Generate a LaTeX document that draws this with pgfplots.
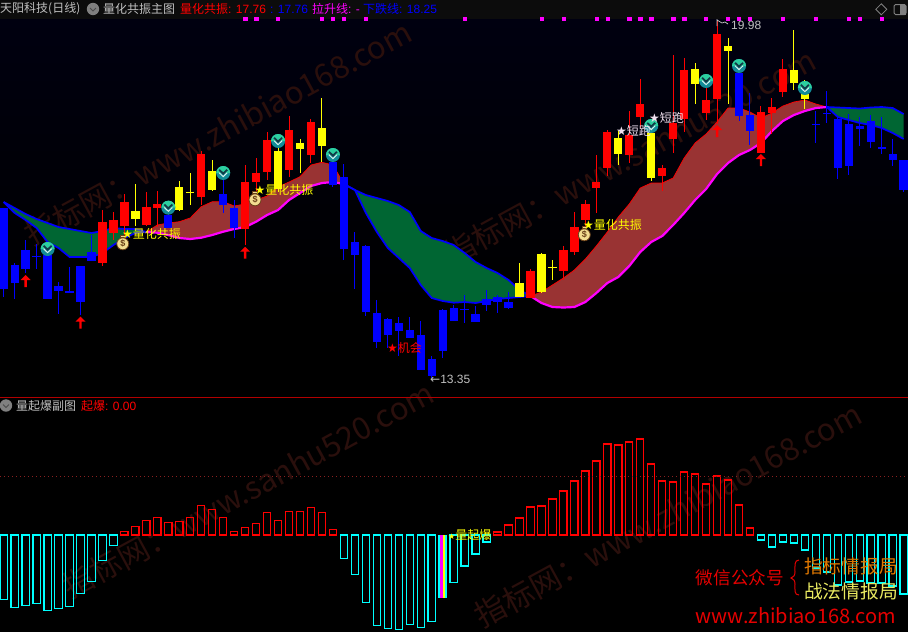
\documentclass[border=0pt]{standalone}
\usepackage{fontspec}
\usepackage{pgfplots}
\usepackage{pgfplotstable}
\pgfplotsset{compat=1.18}
\setmainfont{Liberation Sans}
\newfontfamily\cjk{Noto Sans CJK SC}
\newfontfamily\sym{DejaVu Sans}
\definecolor{wm}{HTML}{2A0F0C}
\definecolor{brown1}{HTML}{993333}
\definecolor{green1}{HTML}{006633}
\definecolor{gr}{HTML}{C0C0C0}
\definecolor{icB}{HTML}{128C98}
\definecolor{icT}{HTML}{2CCFA0}
\definecolor{icD}{HTML}{123A48}
\definecolor{icL}{HTML}{D8F0EC}
\definecolor{bagF}{HTML}{F2DC90}
\definecolor{bagD}{HTML}{6A4018}
\definecolor{dotc}{HTML}{8A2020}
\definecolor{cyn}{HTML}{00FFFF}
\definecolor{mgt}{HTML}{FF00FF}
\definecolor{ylw}{HTML}{FFFF00}
\definecolor{lav}{HTML}{F0E0F0}
\definecolor{org}{HTML}{E07800}
\definecolor{pale}{HTML}{E8E860}
\pgfplotstableread{
x top bot hi lo
9 222 263 210 266
10 220 233 212 240
11 202 226 194 237
13 207 225 192 226
14 204 208 191 227
18 154 197 151 205
22 182 229 165 245
23 173 182 158 192
24 140 172 132 180
26 130 170 116 177
28 122 155 119 163
48 271 298 269 298
51 250 271 246 280
52 227 252 212 255
53 204 220 200 230
54 182 188 155 213
55 132 168 130 176
57 135 155 111 163
58 104 117 79 128
60 168 176 165 191
61 123 139 55 153
62 70 119 58 132
64 100 113 83 120
65 34 99 20 124
69 112 153 106 153
70 107 113 98 134
71 69 92 59 97
}\redc
\pgfplotstableread{
x top bot hi lo
12 211 219 184 226
16 187 210 181 211
17 191.7 192.7 173 205
19 171 190 160 191
25 151 189 140 192
27 143 149 139 173
29 128 146 98 162
47 283 297 263 297
49 254 292 253 293
50 266.7 267.7 260 280
56 138 154 131 165
59 133 178 119 181
63 69 84 63 104
66 46 51 38 104
72 70 83 30 90
73 94 99 80 109
}\yelc
\pgfplotstableread{
x top bot hi lo
0 208 289 208 297
1 265 283 263 299
2 250 269 240 273
3 255.5 256.5 244 269
4 255 299 250 299
5 286 291 282 314
6 291 293 267 293
7 266 302 266 315
8 252 261 235 261
15 215 228 208 228
20 194 205 180 213
21 208 228 200 238
30 162 185 155 187
31 177 249 164 260
32 242 255 232 289
33 246 312 245 316
34 313 342 300 348
35 319 335 318 348
36 323 331 317 356
37 330 338 317 338
38 335 370 321 370
39 359 376 356 378
40 310 351 309 358
41 308 321 305 321
42 308.8 309.8 295 323
43 314 322 306 322
44 299 305 290 311
45 297 302 295 313
46 302 308 292 309
67 73 116 68 121
68 115 131 93 145
74 123.5 124.5 111 143
75 112.5 113.5 91 123
76 119 168 117 179
77 124 166 114 175
78 126 129 117 146
79 121 142 115 148
80 147 149 117 154
81 154 160 139 166
82 160 190 160 192
}\bluc
\pgfplotstableread{
x up lo
0 202 202
1 208 213
2 214 220
3 219 228
4 223 242
5 227 248
6 229 257
7 231 257
8 233 257
9 231 253
10 228 245
11 229 238
12 229 233
13 232 232
}\bandA
\pgfplotstableread{
x up lo
13 232 232
14 225 232.7
15 223 235
16 221.7 238
17 218 239
18 206.7 237.7
19 201.7 235
20 201.7 231.7
21 206 229
22 204 227
23 200 221.7
24 196 215
25 187 210
26 182 200
27 176.7 193
28 165 186
29 162.3 183
30 165 182
31 184 184
}\bandB
\pgfplotstableread{
x up lo
31 184 184
32 190 190
33 195 213
34 198 232
35 201 248
36 205 258
37 212 268
38 231 285
39 238 298
40 241 301
41 245 302.7
42 253 302
43 262 303
44 268 301
45 273 299
46 280 298
47 290 297
48 296 296
}\bandC
\pgfplotstableread{
x up lo
48 296 296
49 292 303
50 285 307
51 278 307.5
52 270 307
53 259 302
54 246 293
55 232 283
56 217 277
57 204 266
58 188 252
59 183 242
60 183 236
61 178 225
62 158 213
63 143 200
64 134 189
65 122 174
66 108 163
67 108 155
68 112 150
69 118 143
70 113 131
71 106 121
72 102 115
73 100 111
74 104 108
75 107 107
}\bandD
\pgfplotstableread{
x up lo
75 107 107
76 107.5 117
77 108 120
78 108.5 123
79 107.5 125
80 107 128
81 108 133
82 114 139
}\bandE
\pgfplotstableread{
x v
0 -64.3
1 -72.3
2 -70.3
3 -68.3
4 -75.3
5 -73.3
6 -71.3
7 -58.3
8 -46.3
9 -25.3
10 -10.3
31 -23.3
32 -39.3
33 -67.3
34 -90.3
35 -93.3
36 -94.3
37 -89.3
38 -92.3
39 -86.3
41 -47.3
42 -31
43 -19
44 -7
69 -5
70 -12
71 -7
72 -8
73 -15
74 -33
75 -37
76 -50
77 -47
78 -46
79 -48
80 -48
81 -51
82 -59
}\negb
\pgfplotstableread{
x v
11 3.7
12 8.7
13 14.7
14 17.7
15 12.7
16 13.7
17 17.7
18 29.7
19 25.7
20 17.7
21 3.7
22 7.7
23 11.7
24 22.7
25 14.7
26 23.7
27 23.7
28 27.7
29 22.7
30 5.7
45 3
46 10
47 17
48 28
49 29
50 36
51 44
52 54
53 64
54 74
55 91
56 90
57 93
58 96
59 71
60 54
61 53
62 63
63 61
64 51
65 59
66 55
67 30
68 7
}\posb
\newcommand{\candles}[2]{%
\addplot[draw=none,forget plot,mark=none,error bars/.cd,y dir=plus,y explicit,error mark=none,
  error bar style={draw=#2,line width=1pt,solid}] table[x=x,y=hi,y error expr=\thisrow{lo}-\thisrow{hi}]{#1};
\addplot[draw=none,forget plot,mark=none,error bars/.cd,y dir=plus,y explicit,error mark=none,
  error bar style={draw=#2,line width=8.3pt,solid}] table[x=x,y=top,y error expr=\thisrow{bot}-\thisrow{top}]{#1};
}
% table, upper colour, upper width, lower colour, lower width
\newcommand{\bandlines}[5]{%
\addplot[draw=#2,line width=#3,forget plot] table[x=x,y=up]{#1};
\addplot[draw=#4,line width=#5,forget plot] table[x=x,y=lo]{#1};
}
\pgfdeclareplotmark{sell}{%
  \pgfsetfillcolor{icB}\pgfpathcircle{\pgfqpoint{0pt}{0pt}}{7pt}\pgfusepath{fill}%
  \pgfsetfillcolor{icT}\pgfpathmoveto{\pgfqpoint{-7pt}{0pt}}\pgfpatharc{180}{0}{7pt}\pgfpathclose\pgfusepath{fill}%
  \pgfsetstrokecolor{icD}\pgfsetlinewidth{1.8pt}%
  \pgfpathmoveto{\pgfqpoint{-4pt}{3.2pt}}\pgfpathlineto{\pgfqpoint{0pt}{-0.6pt}}\pgfpathlineto{\pgfqpoint{4pt}{3.2pt}}\pgfusepath{stroke}%
  \pgfsetstrokecolor{icL}\pgfsetlinewidth{1pt}%
  \pgfpathmoveto{\pgfqpoint{-4pt}{0.2pt}}\pgfpathlineto{\pgfqpoint{0pt}{-3.6pt}}\pgfpathlineto{\pgfqpoint{4pt}{0.2pt}}\pgfusepath{stroke}%
}
\pgfdeclareplotmark{uparrow}{%
  \pgfsetfillcolor{red}%
  \pgfpathmoveto{\pgfqpoint{0pt}{0pt}}\pgfpathlineto{\pgfqpoint{5pt}{-5pt}}\pgfpathlineto{\pgfqpoint{1.2pt}{-5pt}}%
  \pgfpathlineto{\pgfqpoint{1.2pt}{-12pt}}\pgfpathlineto{\pgfqpoint{-1.2pt}{-12pt}}\pgfpathlineto{\pgfqpoint{-1.2pt}{-5pt}}%
  \pgfpathlineto{\pgfqpoint{-5pt}{-5pt}}\pgfpathclose\pgfusepath{fill}%
}
\pgfdeclareplotmark{bag}{%
  \pgfsetfillcolor{bagF}\pgfsetstrokecolor{bagD}\pgfsetlinewidth{.8pt}%
  \pgfpathcircle{\pgfqpoint{0pt}{-1.5pt}}{6pt}\pgfusepath{fill,stroke}%
  \pgfpathrectanglecorners{\pgfqpoint{-2.2pt}{4.5pt}}{\pgfqpoint{2.2pt}{7pt}}\pgfusepath{fill,stroke}%
  \pgftext[x=0pt,y=-1.5pt]{\color{bagD}\bfseries\fontsize{9}{9}\selectfont\$}%
}
\begin{document}
\begin{tikzpicture}[x=1pt,y=-1pt]
\fill[black] (0,0) rectangle (908,632);
\shade[top color={rgb,255:red,0;green,0;blue,16},bottom color=black] (0,19) rectangle (908,300);
\fill[color={rgb,255:red,12;green,12;blue,12}] (0,0) rectangle (908,19);
% watermarks
\begin{scope}[every node/.style={text=wm,inner sep=0,anchor=center}]
\node[rotate=28.5] at (218,133) {\cjk\fontsize{31}{31}\selectfont 指标网：www.zhibiao168.com};
\node[rotate=28.5] at (630,157) {\cjk\fontsize{31}{31}\selectfont 指标网：www.sanhu520.com};
\node[rotate=28.5] at (248,490) {\cjk\fontsize{31}{31}\selectfont 指标网：www.sanhu520.com};
\node[rotate=28.5] at (668,515) {\cjk\fontsize{31}{31}\selectfont 指标网：www.zhibiao168.com};
\end{scope}
\begin{axis}[at={(0pt,0pt)},anchor=north west,scale only axis,width=908pt,height=397pt,hide axis,
  xmin=-0.337,xmax=82.397,ymin=0,ymax=397,y dir=reverse]
\addplot[fill=green1,draw=none,forget plot] coordinates {(0,202)(1,208)(2,214)(3,219)(4,223)(5,227)(6,229)(7,231)(8,233)(9,231)(10,228)(11,229)(12,229)(13,232)(12,233)(11,238)(10,245)(9,253)(8,257)(7,257)(6,257)(5,248)(4,242)(3,228)(2,220)(1,213)};
\addplot[fill=brown1,draw=none,forget plot] coordinates {(13,232)(14,225)(15,223)(16,221.7)(17,218)(18,206.7)(19,201.7)(20,201.7)(21,206)(22,204)(23,200)(24,196)(25,187)(26,182)(27,176.7)(28,165)(29,162.3)(30,165)(31,184)(30,182)(29,183)(28,186)(27,193)(26,200)(25,210)(24,215)(23,221.7)(22,227)(21,229)(20,231.7)(19,235)(18,237.7)(17,239)(16,238)(15,235)(14,232.7)};
\addplot[fill=green1,draw=none,forget plot] coordinates {(31,184)(32,190)(33,195)(34,198)(35,201)(36,205)(37,212)(38,231)(39,238)(40,241)(41,245)(42,253)(43,262)(44,268)(45,273)(46,280)(47,290)(48,296)(47,297)(46,298)(45,299)(44,301)(43,303)(42,302)(41,302.7)(40,301)(39,298)(38,285)(37,268)(36,258)(35,248)(34,232)(33,213)(32,190)};
\addplot[fill=brown1,draw=none,forget plot] coordinates {(48,296)(49,292)(50,285)(51,278)(52,270)(53,259)(54,246)(55,232)(56,217)(57,204)(58,188)(59,183)(60,183)(61,178)(62,158)(63,143)(64,134)(65,122)(66,108)(67,108)(68,112)(69,118)(70,113)(71,106)(72,102)(73,100)(74,104)(75,107)(74,108)(73,111)(72,115)(71,121)(70,131)(69,143)(68,150)(67,155)(66,163)(65,174)(64,189)(63,200)(62,213)(61,225)(60,236)(59,242)(58,252)(57,266)(56,277)(55,283)(54,293)(53,302)(52,307)(51,307.5)(50,307)(49,303)};
\addplot[fill=green1,draw=none,forget plot] coordinates {(75,107)(76,107.5)(77,108)(78,108.5)(79,107.5)(80,107)(81,108)(82,114)(82,139)(81,133)(80,128)(79,125)(78,123)(77,120)(76,117)};
\bandlines{\bandA}{blue}{1.7pt}{blue}{1.7pt}
\bandlines{\bandC}{blue}{1.7pt}{blue}{1.7pt}
\bandlines{\bandE}{blue}{1.7pt}{blue}{1.7pt}
\bandlines{\bandB}{red}{.7pt}{mgt}{2.2pt}
\bandlines{\bandD}{red}{.7pt}{mgt}{2.2pt}
\candles{\redc}{red}
\candles{\yelc}{ylw}
\candles{\bluc}{blue}
% top dots
\addplot[only marks,mark=square*,mark size=1.6pt,color=mgt,forget plot] coordinates {
(22,18.5)(23,18.5)(25,18.5)(29,18.5)(30,18.5)(31,18.5)(33,18.5)(42,18.5)(49,18.5)(51,18.5)(54,18.5)(55,18.5)(57,18.5)(58,18.5)(59,18.5)(61,18.5)(62,18.5)(64,18.5)(66,18.5)(67,18.5)(68,18.5)(71,18.5)(74,18.5)(77,18.5)(78,18.5)(80,18.5)};
% arrows
\addplot[only marks,mark=uparrow,forget plot] coordinates {(2,275)(7,316.7)(22,246.7)(65,125)(69,154)};
% sell icons
\addplot[only marks,mark=sell,forget plot] coordinates {(4,249)(15,207.7)(20,173)(25,141)(30,155)(59,126)(64,81)(67,66)(73,88)};
% bags
\addplot[only marks,mark=bag,forget plot] coordinates {(10.85,242.3)(22.9,198.3)(52.9,233.3)};
\end{axis}
\begin{axis}[at={(0pt,-397pt)},anchor=north west,scale only axis,width=908pt,height=235pt,hide axis,
  xmin=-0.337,xmax=82.397,ymin=-97,ymax=138]
\addplot[ybar,bar width=7.3pt,bar shift=0pt,draw=cyn,line width=1.15pt,fill=none,forget plot] table[x=x,y=v]{\negb};
\addplot[ybar,bar width=7.3pt,bar shift=0pt,draw=red,line width=1.15pt,fill=none,forget plot] table[x=x,y=v]{\posb};
\addplot[ybar,bar width=2.3pt,bar shift=-3.2pt,fill=cyn,draw=none,forget plot] coordinates {(40,-63.3)};
\addplot[ybar,bar width=2.6pt,bar shift=-1pt,fill=mgt,draw=none,forget plot] coordinates {(40,-63.3)};
\addplot[ybar,bar width=2pt,bar shift=1.2pt,fill=ylw,draw=none,forget plot] coordinates {(40,-63.3)};
\addplot[ybar,bar width=2pt,bar shift=3.2pt,fill=cyn,draw=none,forget plot] coordinates {(40,-63.3)};
\addplot[dash pattern=on .8pt off 3.2pt,draw=dotc,line width=.8pt,forget plot] coordinates {(-0.337,58.7)(82.397,58.7)};
\end{axis}
% separator
\draw[color=red!70!black,line width=1pt] (0,397.3)--(908,397.3);
% text helpers
\newcommand{\T}[4]{\node[anchor=west,inner sep=0,text=#3,font=\fontsize{12}{12}\selectfont] at (#1,#2) {#4};}
\T{0}{9}{gr}{\cjk 天阳科技(日线)}
\T{103}{9}{gr}{\cjk 量化共振主图}
\T{180}{9}{red}{{\cjk 量化共振}: 17.76}
\T{270}{9}{blue}{: 17.76}
\T{312}{9}{mgt}{{\cjk 拉升线}: -}
\T{363}{9}{blue}{{\cjk 下跌线}: 18.25}
\fill[color=gray] (93,9) circle (6.2);
\draw[color=black!70,line width=1pt] (90,8)--(93,11)--(96,8);
\fill[color=gray] (6,405.5) circle (6.2);
\draw[color=black!70,line width=1pt] (3,404.5)--(6,407.5)--(9,404.5);
\T{16}{405.5}{gr}{\cjk 量起爆副图}
\T{81}{405.5}{red}{{\cjk 起爆}: 0.00}
% top-right icons
\draw[color=gray,line width=.8pt] (881.3,3.8)--(886.8,9.3)--(881.3,14.8)--(875.8,9.3)--cycle;
\draw[color=gray,line width=1pt,rounded corners=1.5] (894,4.5) rectangle (906,14.5);
\fill[color=gray] (900,4.5) rectangle (906,14.5);
% annotations
\T{122}{234}{ylw}{{\sym\fontsize{12}{12}\selectfont ★}{\cjk 量化共振}}
\T{254.5}{190}{ylw}{{\sym\fontsize{12}{12}\selectfont ★}{\cjk 量化共振}}
\T{583}{225}{ylw}{{\sym\fontsize{12}{12}\selectfont ★}{\cjk 量化共振}}
\T{616}{131}{lav}{{\sym\fontsize{12}{12}\selectfont ★}{\cjk 短跑}}
\T{649}{118}{lav}{{\sym\fontsize{12}{12}\selectfont ★}{\cjk 短跑}}
\T{387}{348}{red}{{\sym\fontsize{12}{12}\selectfont ★}{\cjk 机会}}
\T{430}{379}{gr}{{\sym ←}13.35}
\T{731}{25}{gr}{19.98}
\draw[color=gr,line width=.7pt] (717,19)--(717,26) (717,20)--(722,23)--(725,22)--(728,24);
\T{448}{535}{ylw}{{\sym\fontsize{8}{8}\selectfont ★}{\cjk 量起爆}}
% promo
\node[anchor=west,inner sep=0,text=red!90!black] at (695.7,578) {\cjk\fontsize{17.6}{17.6}\selectfont 微信公众号};
\node[anchor=west,inner sep=0,text=org] at (804,566.7) {\cjk\fontsize{18.7}{18.7}\selectfont 指标情报局};
\node[anchor=west,inner sep=0,text=pale] at (804,591.7) {\cjk\fontsize{18.7}{18.7}\selectfont 战法情报局};
\node[anchor=west,inner sep=0,text=red!90!black] at (695.7,616) {\cjk\fontsize{20}{20}\selectfont www.zhibiao168.com};
\draw[color=red!90!black,line width=1pt] (799,560) .. controls (794,560) and (795,566) .. (795,572) .. controls (795,576) and (793,577) .. (791,578) .. controls (793,579) and (795,580) .. (795,584) .. controls (795,590) and (794,595) .. (799,595);
\pgfresetboundingbox
\path[use as bounding box] (0,0) rectangle (908,632);
\end{tikzpicture}
\end{document}
